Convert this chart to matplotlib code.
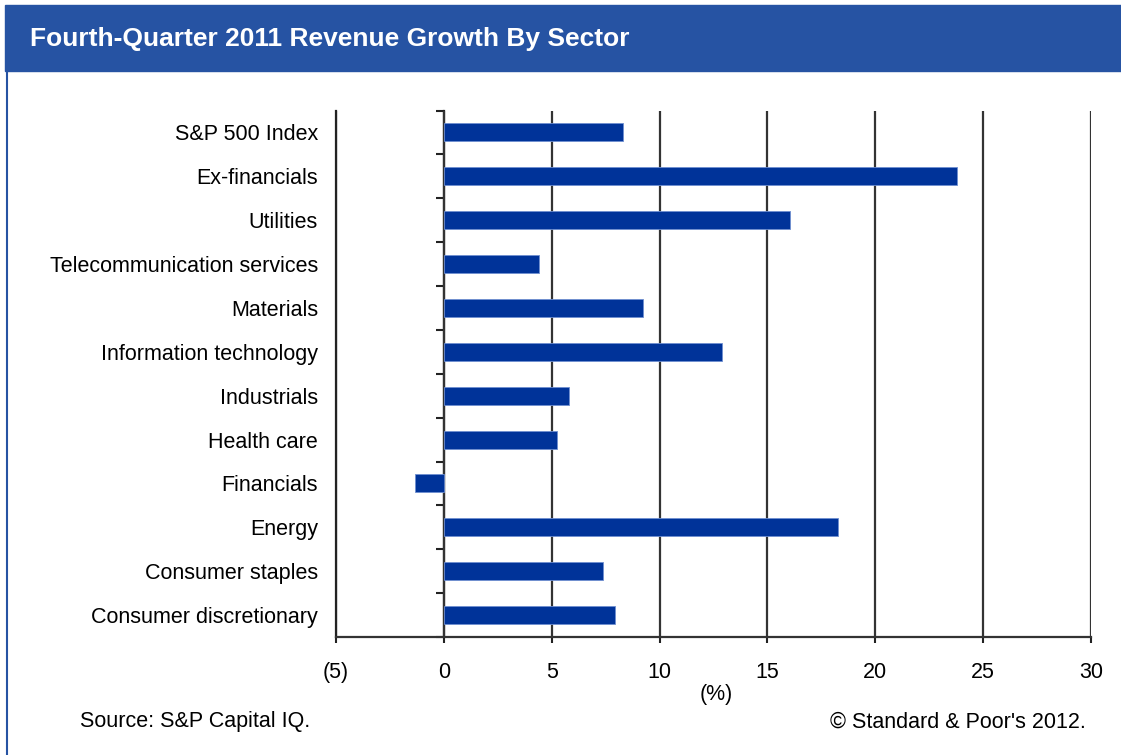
import numpy as np
import matplotlib
matplotlib.use('Agg')
import matplotlib.pyplot as plt
from matplotlib.patches import Rectangle
from matplotlib.lines import Line2D

# Revenue growth, Q4 2011 (%)
sectors = ['S&P 500 Index', 'Ex-financials', 'Utilities', 'Telecommunication services',
           'Materials', 'Information technology', 'Industrials', 'Health care',
           'Financials', 'Energy', 'Consumer staples', 'Consumer discretionary']
growth = [8.3, 23.8, 16.05, 4.42, 9.22, 12.9, 5.8, 5.25, -1.32, 18.26, 7.36, 7.92]
xticks = [-5, 0, 5, 10, 15, 20, 25, 30]
xlabels = ['(5)', '0', '5', '10', '15', '20', '25', '30']

plt.rcParams['font.family'] = ['Liberation Sans', 'DejaVu Sans']

W, H = 1121, 755
fig = plt.figure(figsize=(W / 100, H / 100), dpi=100)
fig.patch.set_facecolor('white')

# header band and frame
band = '#2653a3'
fig.patches.append(Rectangle((5 / W, 1 - 71 / H), 1 - 5 / W, 66 / H,
                             transform=fig.transFigure, color=band, zorder=0))
fig.lines.append(Line2D([6.5 / W, 6.5 / W], [0, 1 - 70 / H], transform=fig.transFigure,
                        color=band, lw=1.5))
fig.text(30 / W, 1 - 39 / H, 'Fourth-Quarter 2011 Revenue Growth By Sector',
         color='white', fontsize=19, fontweight='bold', va='center', ha='left')

ax = fig.add_axes([336 / W, 1 - 637 / H, (1091 - 336) / W, (637 - 110.5) / H])
y = np.arange(len(sectors))
ax.barh(y, growth, height=0.41, color='#003399', edgecolor='#6f8fd0', linewidth=0.6, zorder=3)

ax.set_xlim(-5, 30)
ax.set_ylim(len(sectors) - 0.5, -0.5)
ax.set_xticks(xticks)
ax.set_xticklabels(xlabels, fontsize=15.5)
ax.tick_params(axis='x', direction='out', length=4, width=1.5, color='#222222', pad=14)
ax.set_yticks(y)
ax.set_yticklabels(sectors, fontsize=15.5)
ax.tick_params(axis='y', length=0, pad=13)
ax.grid(axis='x', color='#333333', linewidth=1.6, zorder=1)
ax.grid(axis='y', visible=False)

for side in ['top', 'right']:
    ax.spines[side].set_visible(False)
ax.spines['left'].set_color('#222222')
ax.spines['left'].set_linewidth(1.6)
ax.spines['bottom'].set_color('#333333')
ax.spines['bottom'].set_linewidth(1.6)

# zero line with category-boundary ticks
zero_axis = ax.secondary_yaxis(5 / 35)
zero_axis.set_yticks(np.arange(len(sectors) + 1) - 0.5)
zero_axis.set_yticklabels([])
zero_axis.tick_params(direction='out', length=6, width=1.5, color='#222222')
zero_axis.spines['left'].set_linewidth(1.6)
zero_axis.spines['left'].set_color('#222222')

ax.set_xlabel('(%)', fontsize=15.5)
ax.xaxis.set_label_coords((716 - 336) / (1091 - 336), -(684 - 637) / (637 - 110.5))

fig.text(80 / W, 1 - 722 / H, 'Source: S&P Capital IQ.', fontsize=15.5, va='center', ha='left')
fig.text(1086 / W, 1 - 722 / H, "\u00a9 Standard & Poor's 2012.", fontsize=15.5,
         va='center', ha='right')

fig.savefig('out.png', dpi=100, facecolor='white')
